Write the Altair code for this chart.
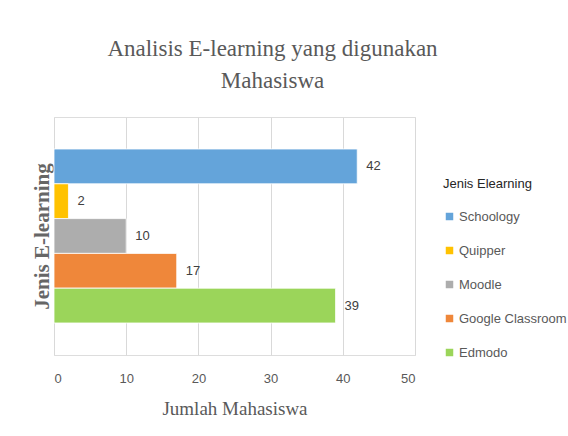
import altair as alt
import pandas as pd

names = ["Schoology", "Quipper", "Moodle", "Google Classroom", "Edmodo"]
values = [42, 2, 10, 17, 39]
colors = ["#64A4DA", "#FFC200", "#ADADAD", "#EF873A", "#9BD55A"]
x_ticks = [0, 10, 20, 30, 40, 50]

df = pd.DataFrame({"name": names, "value": values})

SANS = "Liberation Sans Narrow, Liberation Sans, sans-serif"
SERIF = "Liberation Serif, serif"

base = alt.Chart(df).encode(
    y=alt.Y(
        "name:N",
        sort=names,
        scale=alt.Scale(paddingInner=0, paddingOuter=0.92),
        axis=alt.Axis(
            labels=False, ticks=False, domain=False, grid=False,
            title="Jenis E-learning", titleFont=SERIF, titleFontSize=21,
            titleFontWeight="bold", titleColor="#666666", titlePadding=2,
        ),
    ),
    x=alt.X(
        "value:Q",
        scale=alt.Scale(domain=[0, 50], nice=False),
        axis=alt.Axis(
            values=x_ticks, grid=True, gridColor="#d9d9d9", ticks=False,
            domain=False, labelFont=SANS, labelFontSize=13, labelColor="#595959",
            labelPadding=17, title="Jumlah Mahasiswa", titleFont=SERIF,
            titleFontSize=19, titleFontWeight="normal", titleColor="#595959",
            titlePadding=14,
        ),
    ),
)

bars = base.mark_bar(stroke="white", strokeWidth=0.8).encode(
    color=alt.Color(
        "name:N",
        sort=names,
        scale=alt.Scale(domain=names, range=colors),
        legend=alt.Legend(
            title="Jenis Elearning",
            orient="none", legendX=389, legendY=61,
            titleFont=SANS, titleFontSize=13, titleFontWeight="normal",
            titleColor="#262626", titlePadding=19, titleLimit=200,
            labelFont=SANS, labelFontSize=13, labelColor="#595959",
            labelLimit=200,
            symbolType="square", symbolSize=56, symbolStrokeWidth=0,
            symbolOffset=0, labelOffset=3, rowPadding=20,
        ),
    )
)

labels = base.mark_text(align="left", dx=9, font=SANS, fontSize=13, color="#404040").encode(
    text="value:Q"
)

chart = (
    alt.layer(bars, labels)
    .properties(
        width=361,
        height=238,
        padding={"left": 54, "top": 117, "right": 153, "bottom": 81},
        autosize=alt.AutoSizeParams(type="none"),
        title=alt.Title(
            ["Analisis E-learning yang digunakan", "Mahasiswa"],
            font=SERIF, fontSize=23, fontWeight="normal", color="#595959",
            lineHeight=32, anchor="middle", dx=38, offset=24,
        ),
    )
    .configure_view(stroke=None)
    .configure(background="white")
)

chart.save("out.html", embed_options={"renderer": "svg", "actions": False})
